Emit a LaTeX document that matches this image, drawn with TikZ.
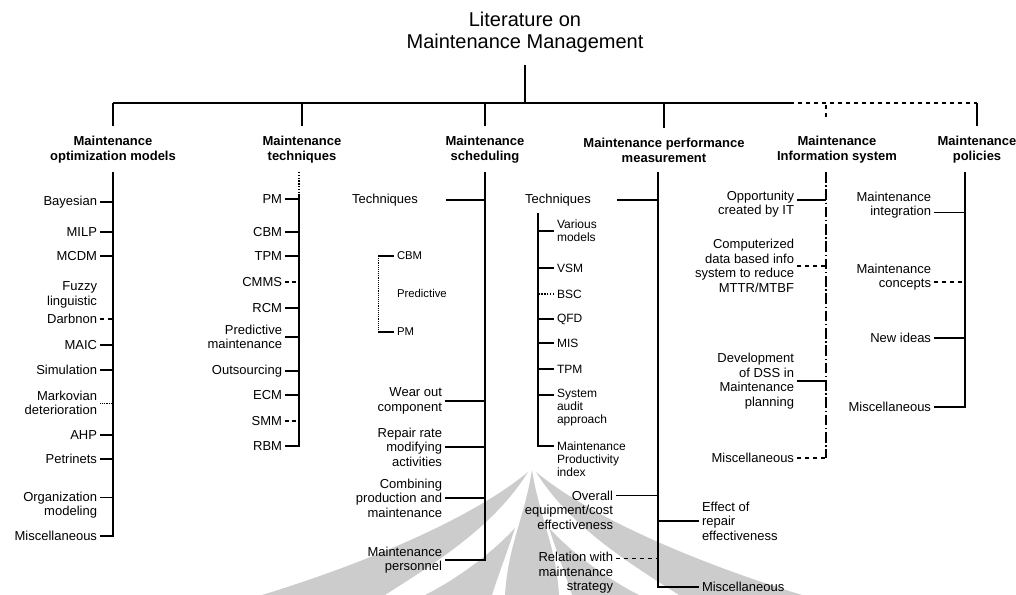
\documentclass[tikz,border=0pt]{standalone}
\usepackage{fontspec}
\setmainfont{Liberation Sans}
\usetikzlibrary{calc}
\begin{document}
\begin{tikzpicture}[x=0.75pt,y=-0.75pt,
  item/.style={font=\fontsize{9.75}{10.9}\selectfont, inner sep=0pt, outer xsep=2.25pt, outer ysep=0pt},
  itemR/.style={item, anchor=east, align=right},
  itemL/.style={item, anchor=west, align=left},
  small/.style={font=\fontsize{9}{9.75}\selectfont},
  tiny/.style={font=\fontsize{8.5}{9.5}\selectfont},
  head/.style={font=\bfseries\fontsize{9.75}{11.25}\selectfont, align=center, inner sep=0pt, outer ysep=7.5pt},
  wire/.style={line width=1.1pt},
  wm/.style={fill=black!20, draw=none},
  dashdot/.style={wire, dash pattern=on 8pt off 2pt on 1pt off 2pt}]
\useasboundingbox (0,0) rectangle (1016,595);

% faint emblem behind the lower half
\fill[wm] (528,472) .. controls (470,520) and (360,565) .. (262,595) -- (385,595) .. controls (440,560) and (495,525) .. (528,472) -- cycle;
\fill[wm] (536,472) .. controls (594,520) and (704,565) .. (802,595) -- (679,595) .. controls (624,560) and (569,525) .. (536,472) -- cycle;
\fill[wm] (515,528) .. controls (490,555) and (455,580) .. (425,595) -- (492,595) .. controls (500,570) and (508,550) .. (515,528) -- cycle;
\fill[wm] (549,528) .. controls (574,555) and (609,580) .. (639,595) -- (572,595) .. controls (564,570) and (556,550) .. (549,528) -- cycle;
\fill[wm] (532,470) .. controls (524,520) and (508,545) .. (505,595) -- (559,595) .. controls (556,545) and (540,520) .. (532,470) -- cycle;

% root and bus
\node[font=\fontsize{15}{16.5}\selectfont, align=center, inner sep=0pt] (title) at (525,32) {Literature on\\Maintenance Management};
\coordinate (root) at (525,65);
\coordinate (bus) at (525,103);
\coordinate (busdash) at (790,103);

% column headers
\node[head] (h1) at (113,150) {Maintenance\\optimization models};
\node[head] (h2) at (302,150) {Maintenance\\techniques};
\node[head] (h3) at (485,150) {Maintenance\\scheduling};
\node[head] (h4) at (664,150) {Maintenance performance\\measurement};
\node[head] (h5) at (837,150) {Maintenance\\Information system};
\node[head] (h6) at (977,150) {Maintenance\\policies};
\coordinate (d5) at (826,117);

\draw[wire] (root) -- (bus);
\draw[wire] (h1.north |- bus) -- (busdash);
\draw[wire, dashed] (busdash) -- (h6.north |- bus);
\foreach \h in {h1,h2,h3,h4,h6} \draw[wire] (\h.north) -- (\h.north |- bus);
\draw[wire, dashed] (d5) -- (d5 |- bus);

% optimization models
\coordinate (sp1) at (113,172);
\node[itemR] (bay) at (100,202) {Bayesian};
\node[itemR] (milp) at (100,232) {MILP};
\node[itemR] (mcdm) at (100,256) {MCDM};
\node[itemR] (fuz) at (100,295) {Fuzzy\\linguistic};
\node[itemR] (darb) at (100,319) {Darbnon};
\node[itemR] (maic) at (100,345) {MAIC};
\node[itemR] (sim) at (100,370) {Simulation};
\node[itemR] (mark) at (100,403) {Markovian\\deterioration};
\node[itemR] (ahp) at (100,435) {AHP};
\node[itemR] (petri) at (100,459) {Petrinets};
\node[itemR] (org) at (100,505) {Organization\\modeling};
\node[itemR] (misc1) at (100,536) {Miscellaneous};
\draw[wire] (sp1) -- (sp1 |- misc1.east) -- (misc1.east);
\foreach \n in {bay,milp,mcdm,maic,sim,ahp,petri} \draw[wire] (\n.east) -- (\n.east -| sp1);
\draw[wire, dashed] (darb.east) -- (darb.east -| sp1);
\draw[thin, densely dotted] (mark.east) -- (mark.east -| sp1);
\draw[wire] ([yshift=5.45pt]org.east) coordinate (t) -- (t -| sp1);

% techniques
\coordinate (sp2) at (299,172);
\coordinate (sp2s) at (299,195);
\node[itemR] (pm2) at (285,199) {PM};
\node[itemR] (cbm2) at (285,232) {CBM};
\node[itemR] (tpm2) at (285,256) {TPM};
\node[itemR] (cmms) at (285,282) {CMMS};
\node[itemR] (rcm) at (285,308) {RCM};
\node[itemR] (pred) at (285,337) {Predictive\\maintenance};
\node[itemR] (outs) at (285,371) {Outsourcing};
\node[itemR] (ecm) at (285,395) {ECM};
\node[itemR] (smm) at (285,421) {SMM};
\node[itemR] (rbm) at (285,446) {RBM};
\draw[wire, densely dotted] (sp2) -- (sp2s);
\draw[wire] (sp2s) -- (sp2s |- rbm.east) -- (rbm.east);
\foreach \n in {pm2,cbm2,tpm2,rcm,pred,outs,ecm} \draw[wire] (\n.east) -- (\n.east -| sp2);
\foreach \n in {cmms,smm} \draw[wire, densely dashed] (\n.east) -- (\n.east -| sp2);

% scheduling
\coordinate (sp3) at (485,172);
\node[item] (tech3) at (385,200) {Techniques};
\draw[wire] ([xshift=19pt]tech3.east) coordinate (t) -- (t -| sp3);
\coordinate (sub3) at (378,256);
\node[itemL, tiny] (cbm3) at (394,256) {CBM};
\node[itemL, tiny] (pred3) at (394,293) {Predictive};
\node[itemL, tiny] (pm3) at (394,332) {PM};
\draw[thin, densely dotted] (sub3) -- (sub3 |- pm3.west);
\foreach \n in {cbm3,pm3} \draw[wire] (\n.west) -- (\n.west -| sub3);
\node[itemR] (wear) at (445,401) {Wear out\\component};
\node[itemR] (repair) at (445,447) {Repair rate\\modifying\\activities};
\node[itemR] (comb) at (445,498) {Combining\\production and\\maintenance};
\node[itemR] (pers) at (445,560) {Maintenance\\personnel};
\draw[wire] (sp3) -- (sp3 |- pers.east) -- (pers.east);
\foreach \n in {wear,repair,comb} \draw[wire] (\n.east) -- (\n.east -| sp3);

% performance measurement
\coordinate (sp4) at (658,172);
\node[item] (tech4) at (558,200) {Techniques};
\draw[wire] ([xshift=17.5pt]tech4.east) coordinate (t) -- (t -| sp4);
\coordinate (sub4) at (538,213);
\node[itemL, small] (var) at (554,231) {Various\\models};
\node[itemL, small] (vsm) at (554,268) {VSM};
\node[itemL, small] (bsc) at (554,294) {BSC};
\node[itemL, small] (qfd) at (554,319) {QFD};
\node[itemL, small] (mis) at (554,343) {MIS};
\node[itemL, small] (tpm4) at (554,369) {TPM};
\node[itemL, small] (sys) at (554,408) {System\\audit\\approach};
\node[itemL, small] (mpi) at (554,459) {Maintenance\\Productivity\\index};
\path ([yshift=9.75pt]mpi.west) coordinate (mpit);
\draw[wire] (sub4) -- (sub4 |- mpit) -- (mpit);
\foreach \n in {var,vsm,qfd,mis,tpm4} \draw[wire] (\n.west) -- (\n.west -| sub4);
\draw[wire, densely dotted] (bsc.west) -- (bsc.west -| sub4);
\draw[wire] ([yshift=9.75pt]sys.west) coordinate (t) -- (t -| sub4);
\node[itemR] (overall) at (616,510) {Overall\\equipment/cost\\effectiveness};
\node[itemL] (effect) at (699,521) {Effect of\\repair\\effectiveness};
\node[itemR] (rel) at (616,573) {Relation with\\maintenance\\strategy};
\node[itemL] (misc4) at (699,587) {Miscellaneous};
\draw[wire] (sp4) -- (sp4 |- misc4.west) -- (misc4.west);
\draw[wire] ([yshift=10.9pt]overall.east) coordinate (t) -- (t -| sp4);
\draw[wire] (effect.west) -- (effect.west -| sp4);
\draw[wire, dashed] ([yshift=10.9pt]rel.east) coordinate (t) -- (t -| sp4);

% information system
\coordinate (sp5) at (826,172);
\node[itemR] (opp) at (797,204) {Opportunity\\created by IT};
\node[itemR] (comp) at (797,266) {Computerized\\data based info\\system to reduce\\MTTR/MTBF};
\node[itemR] (dss) at (797,381) {Development\\of DSS in\\Maintenance\\planning};
\node[itemR] (misc5) at (797,458) {Miscellaneous};
\draw[dashdot] (sp5) -- (sp5 |- misc5.east);
\draw[wire] ([yshift=3pt]opp.east) coordinate (t) -- (t -| sp5);
\draw[wire, dashed] (comp.east) -- (comp.east -| sp5);
\draw[wire] (dss.east) -- (dss.east -| sp5);
\draw[wire, dashed] (misc5.east) -- (misc5.east -| sp5);

% policies
\coordinate (sp6) at (965,172);
\node[itemR] (integ) at (934,205) {Maintenance\\integration};
\node[itemR] (conc) at (934,277) {Maintenance\\concepts};
\node[itemR] (newid) at (934,338) {New ideas};
\node[itemR] (misc6) at (934,407) {Miscellaneous};
\draw[wire] (sp6) -- (sp6 |- misc6.east) -- (misc6.east);
\draw[wire] ([yshift=-5.45pt]integ.east) coordinate (t) -- (t -| sp6);
\draw[wire, dashed] ([yshift=-3.75pt]conc.east) coordinate (t) -- (t -| sp6);
\draw[wire] (newid.east) -- (newid.east -| sp6);
\end{tikzpicture}
\end{document}
